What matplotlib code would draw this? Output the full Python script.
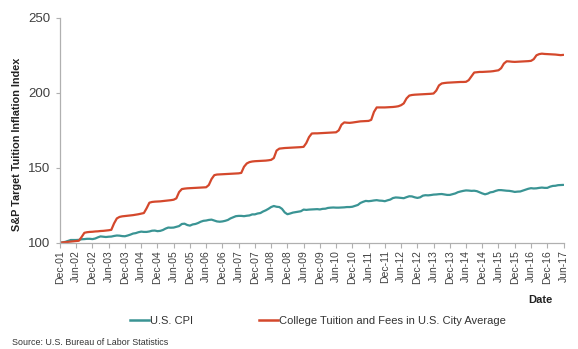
import numpy as np
import pandas as pd
import matplotlib
matplotlib.use("Agg")
import matplotlib.pyplot as plt
from matplotlib.lines import Line2D

plt.rcParams['font.family'] = ['Liberation Sans', 'DejaVu Sans']

# Monthly observations, Dec 2001 through Jun 2017 (index, Dec 2001 = 100)
dates = pd.date_range("2001-12-01", "2017-06-01", freq="MS")

us_cpi = [
    100.0,
    100.2, 100.6, 101.2, 101.8, 101.8, 101.8, 101.9, 102.3, 102.4, 102.6, 102.6, 102.4,
    102.8, 103.6, 104.2, 104.0, 103.8, 104.0, 104.1, 104.5, 104.8, 104.7, 104.4, 104.3,
    104.8, 105.4, 106.1, 106.4, 107.0, 107.4, 107.2, 107.2, 107.5, 108.0, 108.1, 107.7,
    107.9, 108.5, 109.4, 110.1, 110.0, 110.1, 110.6, 111.1, 112.5, 112.7, 111.8, 111.4,
    112.2, 112.5, 113.1, 114.0, 114.6, 114.8, 115.2, 115.4, 114.8, 114.2, 114.0, 114.2,
    114.6, 115.2, 116.2, 117.0, 117.7, 117.9, 117.9, 117.7, 118.0, 118.2, 118.9, 118.9,
    119.5, 119.8, 120.8, 121.6, 122.6, 123.8, 124.5, 124.0, 123.8, 122.6, 120.2, 119.0,
    119.5, 120.1, 120.4, 120.7, 121.0, 122.1, 121.9, 122.1, 122.2, 122.3, 122.4, 122.2,
    122.6, 122.7, 123.2, 123.4, 123.5, 123.4, 123.4, 123.5, 123.6, 123.8, 123.8, 124.0,
    124.6, 125.2, 126.5, 127.3, 127.9, 127.7, 127.9, 128.2, 128.4, 128.1, 128.0, 127.7,
    128.3, 128.8, 129.8, 130.2, 130.1, 129.9, 129.7, 130.4, 131.0, 130.9, 130.3, 129.9,
    130.3, 131.4, 131.7, 131.6, 131.8, 132.1, 132.2, 132.4, 132.5, 132.2, 131.9, 131.9,
    132.4, 132.9, 133.7, 134.2, 134.6, 134.9, 134.8, 134.6, 134.7, 134.4, 133.6, 132.9,
    132.3, 132.8, 133.6, 133.9, 134.6, 135.1, 135.1, 134.9, 134.7, 134.6, 134.3, 133.9,
    134.1, 134.2, 134.8, 135.4, 136.0, 136.4, 136.2, 136.3, 136.6, 136.8, 136.6, 136.6,
    137.4, 137.9, 138.0, 138.4, 138.5, 138.6,
]

college_tuition = [
    100.0,
    100.2, 100.4, 100.6, 100.8, 101.0, 101.1, 101.3, 103.8, 106.6, 107.0, 107.2, 107.3,
    107.5, 107.6, 107.8, 107.9, 108.1, 108.3, 108.6, 112.9, 116.2, 117.2, 117.6, 117.8,
    118.0, 118.2, 118.4, 118.7, 119.0, 119.4, 119.8, 123.0, 126.7, 127.2, 127.4, 127.5,
    127.6, 127.8, 128.0, 128.2, 128.4, 128.7, 129.6, 133.8, 135.8, 136.1, 136.3, 136.4,
    136.5, 136.6, 136.7, 136.8, 136.9, 137.0, 138.5, 142.5, 145.1, 145.5, 145.6, 145.7,
    145.8, 145.9, 146.0, 146.1, 146.2, 146.3, 146.6, 150.7, 152.9, 153.8, 154.2, 154.4,
    154.5, 154.6, 154.7, 154.8, 155.0, 155.3, 156.5, 161.5, 162.8, 163.0, 163.2, 163.3,
    163.4, 163.5, 163.6, 163.7, 163.8, 164.0, 166.5, 170.5, 172.9, 173.0, 173.0, 173.1,
    173.2, 173.3, 173.4, 173.5, 173.6, 173.7, 175.0, 178.8, 180.3, 180.1, 180.0, 180.2,
    180.5, 180.8, 181.0, 181.1, 181.2, 181.3, 182.0, 187.3, 190.3, 190.3, 190.3, 190.3,
    190.4, 190.5, 190.6, 190.8, 191.1, 191.8, 193.0, 196.3, 198.2, 198.6, 198.8, 198.9,
    199.0, 199.1, 199.2, 199.3, 199.4, 199.6, 201.5, 205.0, 206.3, 206.6, 206.8, 206.9,
    207.0, 207.1, 207.2, 207.3, 207.3, 207.4, 208.5, 211.1, 213.6, 213.8, 214.0, 214.0,
    214.1, 214.2, 214.3, 214.5, 214.8, 215.1, 216.5, 219.6, 221.1, 221.0, 220.8, 220.7,
    220.8, 220.9, 221.0, 221.1, 221.2, 221.4, 222.5, 225.1, 225.9, 226.2, 226.0, 225.9,
    225.8, 225.7, 225.6, 225.4, 225.2, 225.4,
]

series_names = ["U.S. CPI", "College Tuition and Fees in U.S. City Average"]
series_colors = ["#3a9494", "#d4482c"]
y_ticks = [100, 150, 200, 250]

# Semi-annual tick labels (Dec / Jun)
tick_dates = [d for d in dates if d.month in (6, 12)]
tick_labels = [d.strftime("%b-%y") for d in tick_dates]

fig = plt.figure(figsize=(5.78, 3.49), dpi=100)
ax = fig.add_axes([60 / 578, 1 - 242.7 / 349, (563.5 - 60) / 578, (242.7 - 18) / 349])

ax.plot(dates, us_cpi, color=series_colors[0], lw=1.6, solid_capstyle="round")
ax.plot(dates, college_tuition, color=series_colors[1], lw=1.6, solid_capstyle="round")

ax.set_xlim(dates[0], dates[-1])
ax.set_ylim(100, 250)
ax.set_yticks(y_ticks)
ax.set_yticklabels([str(v) for v in y_ticks], fontsize=9.5, color="#404040")
ax.set_xticks(tick_dates)
ax.set_xticklabels(tick_labels, rotation=90, fontsize=7.5, color="#404040")

for side in ("top", "right"):
    ax.spines[side].set_visible(False)
for side in ("left", "bottom"):
    ax.spines[side].set_color("#b0b0b0")
    ax.spines[side].set_linewidth(0.9)
ax.tick_params(axis="x", length=3.5, width=0.8, color="#b0b0b0", pad=2)
ax.tick_params(axis="y", length=3, width=0.8, color="#b0b0b0", pad=4)

ax.set_ylabel("S&P Target Tuition Inflation Index", fontsize=7.8, fontweight="bold",
              color="#222222")
ax.yaxis.set_label_coords(-38 / 503.5, 0.5 - 14 / 224.7)

fig.text(540 / 578, 1 - 300 / 349, "Date", fontsize=8, fontweight="bold",
         color="#222222", ha="center", va="center")

handles = [Line2D([], [], color=c, lw=1.8) for c in series_colors]
fig.legend(handles, series_names, loc="center", bbox_to_anchor=(318 / 578, 1 - 320.5 / 349),
           ncol=2, frameon=False, fontsize=8, handlelength=1.7, handletextpad=0.1,
           columnspacing=6.0, labelcolor="#333333")

fig.text(12 / 578, 1 - 342.5 / 349, "Source: U.S. Bureau of Labor Statistics",
         fontsize=6.4, color="#333333", ha="left", va="center")

fig.savefig("out.png", dpi=100)
